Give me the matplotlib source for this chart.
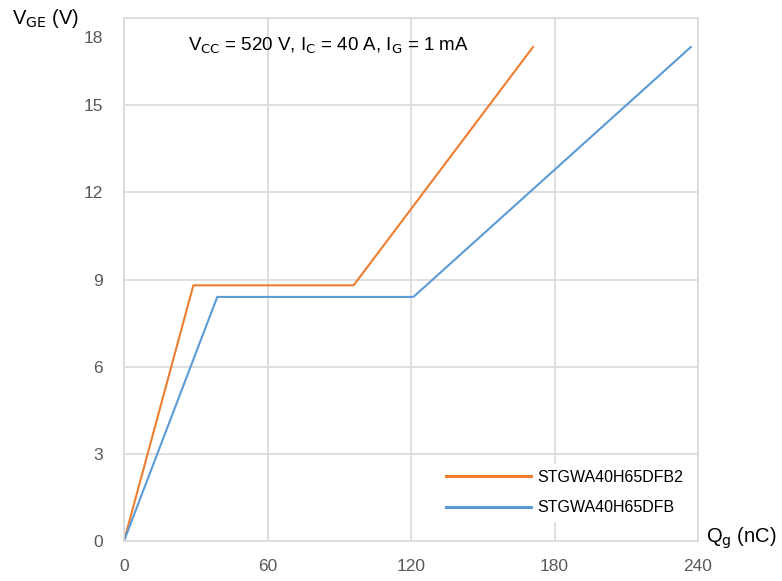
import matplotlib.pyplot as plt
from matplotlib.transforms import ScaledTranslation

plt.rcParams['font.family'] = ['Liberation Sans', 'DejaVu Sans']

# gate charge curves (Qg in nC, VGE in V)
qg_b2 = [0, 29, 96, 171]
vge_b2 = [0, 8.8, 8.8, 17.0]
qg_b = [0, 39, 121, 237]
vge_b = [0, 8.4, 8.4, 17.0]
labels = ['STGWA40H65DFB2', 'STGWA40H65DFB']
x_ticks = [0, 60, 120, 180, 240]
y_ticks = [0, 3, 6, 9, 12, 15, 18]

fig = plt.figure(figsize=(7.82, 5.81), dpi=100)
ax = fig.add_axes([124 / 782, 1 - 541 / 581, 574 / 782, 523 / 581])

ax.plot(qg_b2, vge_b2, color='#ED7D31', lw=1.5, label=labels[0])
ax.plot(qg_b, vge_b, color='#5B9BD5', lw=1.5, label=labels[1])

ax.set_xlim(0, 240)
ax.set_ylim(0, 18)
ax.set_xticks(x_ticks)
ax.set_yticks(y_ticks)
ax.grid(True, color='#D9D9D9', lw=1.2)
ax.set_axisbelow(True)
for s in ax.spines.values():
    s.set_color('#D9D9D9')
    s.set_linewidth(1.2)
ax.tick_params(length=0, labelsize=12.5, labelcolor='#595959')
ax.tick_params(axis='y', pad=15)
ax.tick_params(axis='x', pad=13)

# the top y label sits lower, below the axis title
top_lbl = ax.get_yticklabels()[-1]
top_lbl.set_transform(top_lbl.get_transform() + ScaledTranslation(0, -0.19, fig.dpi_scale_trans))

ax.text(0.357, 0.946, r'V$_{\rm CC}$ = 520 V, I$_{\rm C}$ = 40 A, I$_{\rm G}$ = 1 mA',
        transform=ax.transAxes, ha='center', va='center', fontsize=13.5)
fig.text(12 / 782, 1 - 18 / 581, r'V$_{\rm GE}$ (V)', fontsize=14.5, va='center', ha='left')
fig.text(706 / 782, 1 - 538 / 581, r'Q$_{\rm g}$ (nC)', fontsize=14.5, va='center', ha='left')

leg = ax.legend(loc='lower right', bbox_to_anchor=(0.993, 0.028), frameon=True, fancybox=False,
                edgecolor='none', facecolor='white', framealpha=1, fontsize=11.5,
                handlelength=5.3, handletextpad=0.4, labelspacing=0.95, borderaxespad=0.3)
for line in leg.get_lines():
    line.set_linewidth(2.2)

fig.savefig('out.png', dpi=100)
